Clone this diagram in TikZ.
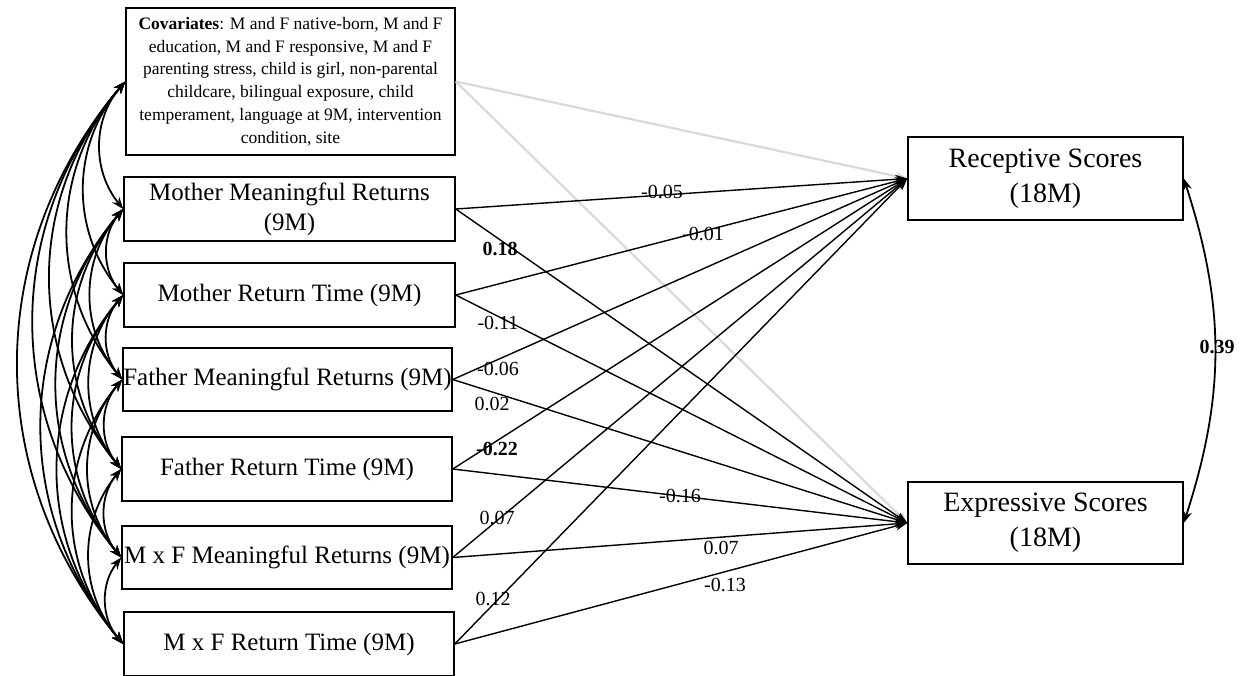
\documentclass[tikz,border=0pt]{standalone}
\usepackage{fontspec}
\setmainfont{Liberation Serif}
\usetikzlibrary{arrows.meta}
\begin{document}
\begin{tikzpicture}[x=1pt,y=1pt,
  box/.style={draw, line width=1.5pt, inner sep=0pt, align=center},
  lbox/.style={box, minimum width=330pt, minimum height=64pt, font=\fontsize{25}{30}\selectfont},
  rbox/.style={box, minimum width=275pt, minimum height=83pt, font=\fontsize{28}{35}\selectfont},
  path/.style={line width=1.4pt, -{Stealth[length=12pt,width=9pt]}},
  grey/.style={line width=2.2pt, draw=lightline, -{Stealth[length=12pt,width=9pt]}},
  corr/.style={line width=1.8pt, {Stealth[length=12pt,width=9pt]}-{Stealth[length=12pt,width=9pt]}},
  lab/.style={inner sep=0pt, font=\fontsize{20}{24}\selectfont},
  blab/.style={lab, font=\fontsize{20}{24}\selectfont\bfseries}
]
\definecolor{lightline}{RGB}{217,217,217}
\useasboundingbox (0,0) rectangle (1248,-675);

% nodes
\node[box, minimum width=329pt, minimum height=147pt, font=\fontsize{17.5}{22.8}\selectfont] (cov) at (290.5,-81.5)
 {\textbf{Covariates}: M and F native-born, M and F\\education, M and F responsive, M and F\\parenting stress, child is girl, non-parental\\childcare, bilingual exposure, child\\temperament, language at 9M, intervention\\condition, site};
\node[lbox, minimum width=331pt] (c1) at (289.5,-209) {Mother Meaningful Returns\\(9M)};
\node[lbox, minimum width=331pt] (c2) at (289.5,-295) {Mother Return Time (9M)};
\node[lbox, minimum width=329pt, minimum height=63pt] (c3) at (287.5,-379.5) {Father Meaningful Returns (9M)};
\node[lbox] (c4) at (287,-469) {Father Return Time (9M)};
\node[lbox, minimum height=63pt] (c5) at (287,-557.5) {M x F Meaningful Returns (9M)};
\node[lbox] (c6) at (289,-644) {M x F Return Time (9M)};
\node[rbox] (rec) at (1045.5,-178.5) {Receptive Scores\\(18M)};
\node[rbox, minimum height=82pt] (exp) at (1045.5,-523) {Expressive Scores\\(18M)};

% grey covariate paths
\draw[grey] (cov.east) -- (rec.west);
\draw[grey] (cov.east) -- (exp.west);

% paths
\foreach \s in {c1,c2,c3,c4,c5,c6}{
  \draw[path] (\s.east) -- (rec.west);
  \draw[path] (\s.east) -- (exp.west);
}

% correlations among predictors
\foreach \a/\b in {cov/c1,cov/c2,cov/c3,cov/c4,cov/c5,cov/c6,
                   c1/c2,c1/c3,c1/c4,c1/c5,c1/c6,
                   c2/c3,c2/c4,c2/c5,c2/c6,
                   c3/c4,c3/c5,c3/c6,
                   c4/c5,c4/c6,
                   c5/c6}{
  \draw[corr] (\a.west) to[bend right=40] (\b.west);
}

% outcome correlation
\draw[corr] (rec.east) to[bend left=18] (exp.east);

% labels
\node[lab]  (l1)  at (662,-192) {-0.05};
\node[blab] (l2)  at (500,-249) {0.18};
\node[lab]  (l3)  at (703,-234) {-0.01};
\node[lab]  (l4)  at (498,-323) {-0.11};
\node[lab]  (l5)  at (498,-369) {-0.06};
\node[lab]  (l6)  at (492,-404) {0.02};
\node[blab] (l7)  at (497,-449) {-0.22};
\node[lab]  (l8)  at (680,-496) {-0.16};
\node[lab]  (l9)  at (497,-518) {0.07};
\node[lab]  (l10) at (721,-548) {0.07};
\node[lab]  (l11) at (493,-599) {0.12};
\node[lab]  (l12) at (725,-585) {-0.13};
\node[blab] (l13) at (1217,-347) {0.39};
\end{tikzpicture}
\end{document}
